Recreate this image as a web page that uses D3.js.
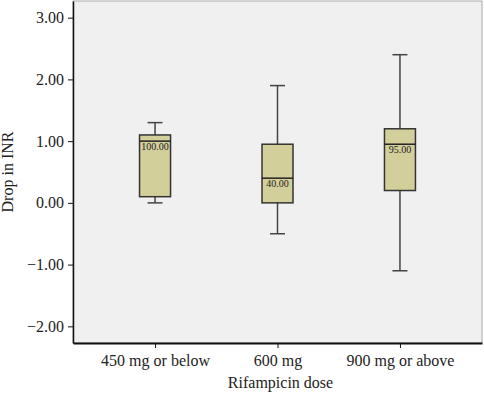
<!DOCTYPE html>
<html>
<head>
<meta charset="utf-8">
<script src="https://cdn.jsdelivr.net/npm/d3@7"></script>
<style>
  body { margin: 0; background: #fff; }
  svg text { font-family: "Liberation Serif", "DejaVu Serif", serif; fill: #222; }
</style>
</head>
<body>
<div id="chart"></div>
<script>
const categories = ["450 mg or below", "600 mg", "900 mg or above"];
const whiskerLow = [0.0, -0.5, -1.1];
const q1 = [0.1, 0.0, 0.2];
const median = [1.0, 0.4, 0.95];
const q3 = [1.1, 0.95, 1.2];
const whiskerHigh = [1.3, 1.9, 2.4];
const medianLabels = ["100.00", "40.00", "95.00"];
const yTicks = [-2, -1, 0, 1, 2, 3];

const width = 484, height = 394;
const margin = { top: 1, right: 2, bottom: 51, left: 73 };
const serif = '"Liberation Serif", "DejaVu Serif", serif';

const svg = d3.select('#chart').append('svg')
    .attr('width', width)
    .attr('height', height);

const x = d3.scalePoint()
    .domain(categories)
    .range([margin.left, width - margin.right])
    .padding(0.67);

const y = d3.scaleLinear()
    .domain([-2.27, 3.27])
    .range([height - margin.bottom, margin.top]);

// plot background
svg.append('rect')
    .attr('x', margin.left)
    .attr('y', margin.top)
    .attr('width', width - margin.right - margin.left)
    .attr('height', height - margin.bottom - margin.top)
    .attr('fill', '#f0f0f0')
    .attr('stroke', '#aaa')
    .attr('stroke-width', 1);

// Y axis
const yAxis = svg.append('g')
    .attr('transform', `translate(${margin.left},0)`)
    .call(d3.axisLeft(y).tickValues(yTicks).tickSize(5).tickSizeOuter(0).tickFormat(d => d3.format('.2f')(d).replace('-', '\u2212')))
    .attr('font-family', serif);
yAxis.select('.domain').attr('stroke', '#111').attr('stroke-width', 1.5);
yAxis.selectAll('.tick line').attr('stroke', '#111');
yAxis.selectAll('.tick text').attr('font-size', '16px').attr('x', -9).attr('fill', '#222');

// X axis
const xAxis = svg.append('g')
    .attr('transform', `translate(0,${height - margin.bottom})`)
    .call(d3.axisBottom(x).tickSize(5).tickSizeOuter(0))
    .attr('font-family', serif);
xAxis.select('.domain').attr('stroke', '#111').attr('stroke-width', 2);
xAxis.selectAll('.tick line').attr('stroke', '#111');
xAxis.selectAll('.tick text').attr('font-size', '16px').attr('dy', '0.95em').attr('fill', '#222');

// boxes
const boxW = 31, capW = 15;
const g = svg.append('g');
categories.forEach((c, i) => {
    const cx = x(c);
    g.append('line')
        .attr('x1', cx).attr('x2', cx)
        .attr('y1', y(whiskerLow[i])).attr('y2', y(whiskerHigh[i]))
        .attr('stroke', '#444').attr('stroke-width', 1.5);
    [whiskerLow[i], whiskerHigh[i]].forEach(v => {
        g.append('line')
            .attr('x1', cx - capW / 2).attr('x2', cx + capW / 2)
            .attr('y1', y(v)).attr('y2', y(v))
            .attr('stroke', '#444').attr('stroke-width', 1.5);
    });
    g.append('rect')
        .attr('x', cx - boxW / 2)
        .attr('y', y(q3[i]))
        .attr('width', boxW)
        .attr('height', y(q1[i]) - y(q3[i]))
        .attr('fill', '#d3cf9b')
        .attr('stroke', '#333').attr('stroke-width', 1.5);
    g.append('line')
        .attr('x1', cx - boxW / 2).attr('x2', cx + boxW / 2)
        .attr('y1', y(median[i])).attr('y2', y(median[i]))
        .attr('stroke', '#222').attr('stroke-width', 1.5);
    g.append('text')
        .attr('x', cx)
        .attr('y', y(median[i]) + 9)
        .attr('text-anchor', 'middle')
        .attr('font-size', '10px')
        .text(medianLabels[i]);
});

// axis titles
svg.append('text')
    .attr('x', (margin.left + width - margin.right) / 2 + 3)
    .attr('y', 388)
    .attr('text-anchor', 'middle')
    .attr('font-size', '16px')
    .text('Rifampicin dose');

svg.append('text')
    .attr('transform', `translate(13,${(margin.top + height - margin.bottom) / 2}) rotate(-90)`)
    .attr('text-anchor', 'middle')
    .attr('font-size', '16px')
    .text('Drop in INR');
</script>
</body>
</html>
